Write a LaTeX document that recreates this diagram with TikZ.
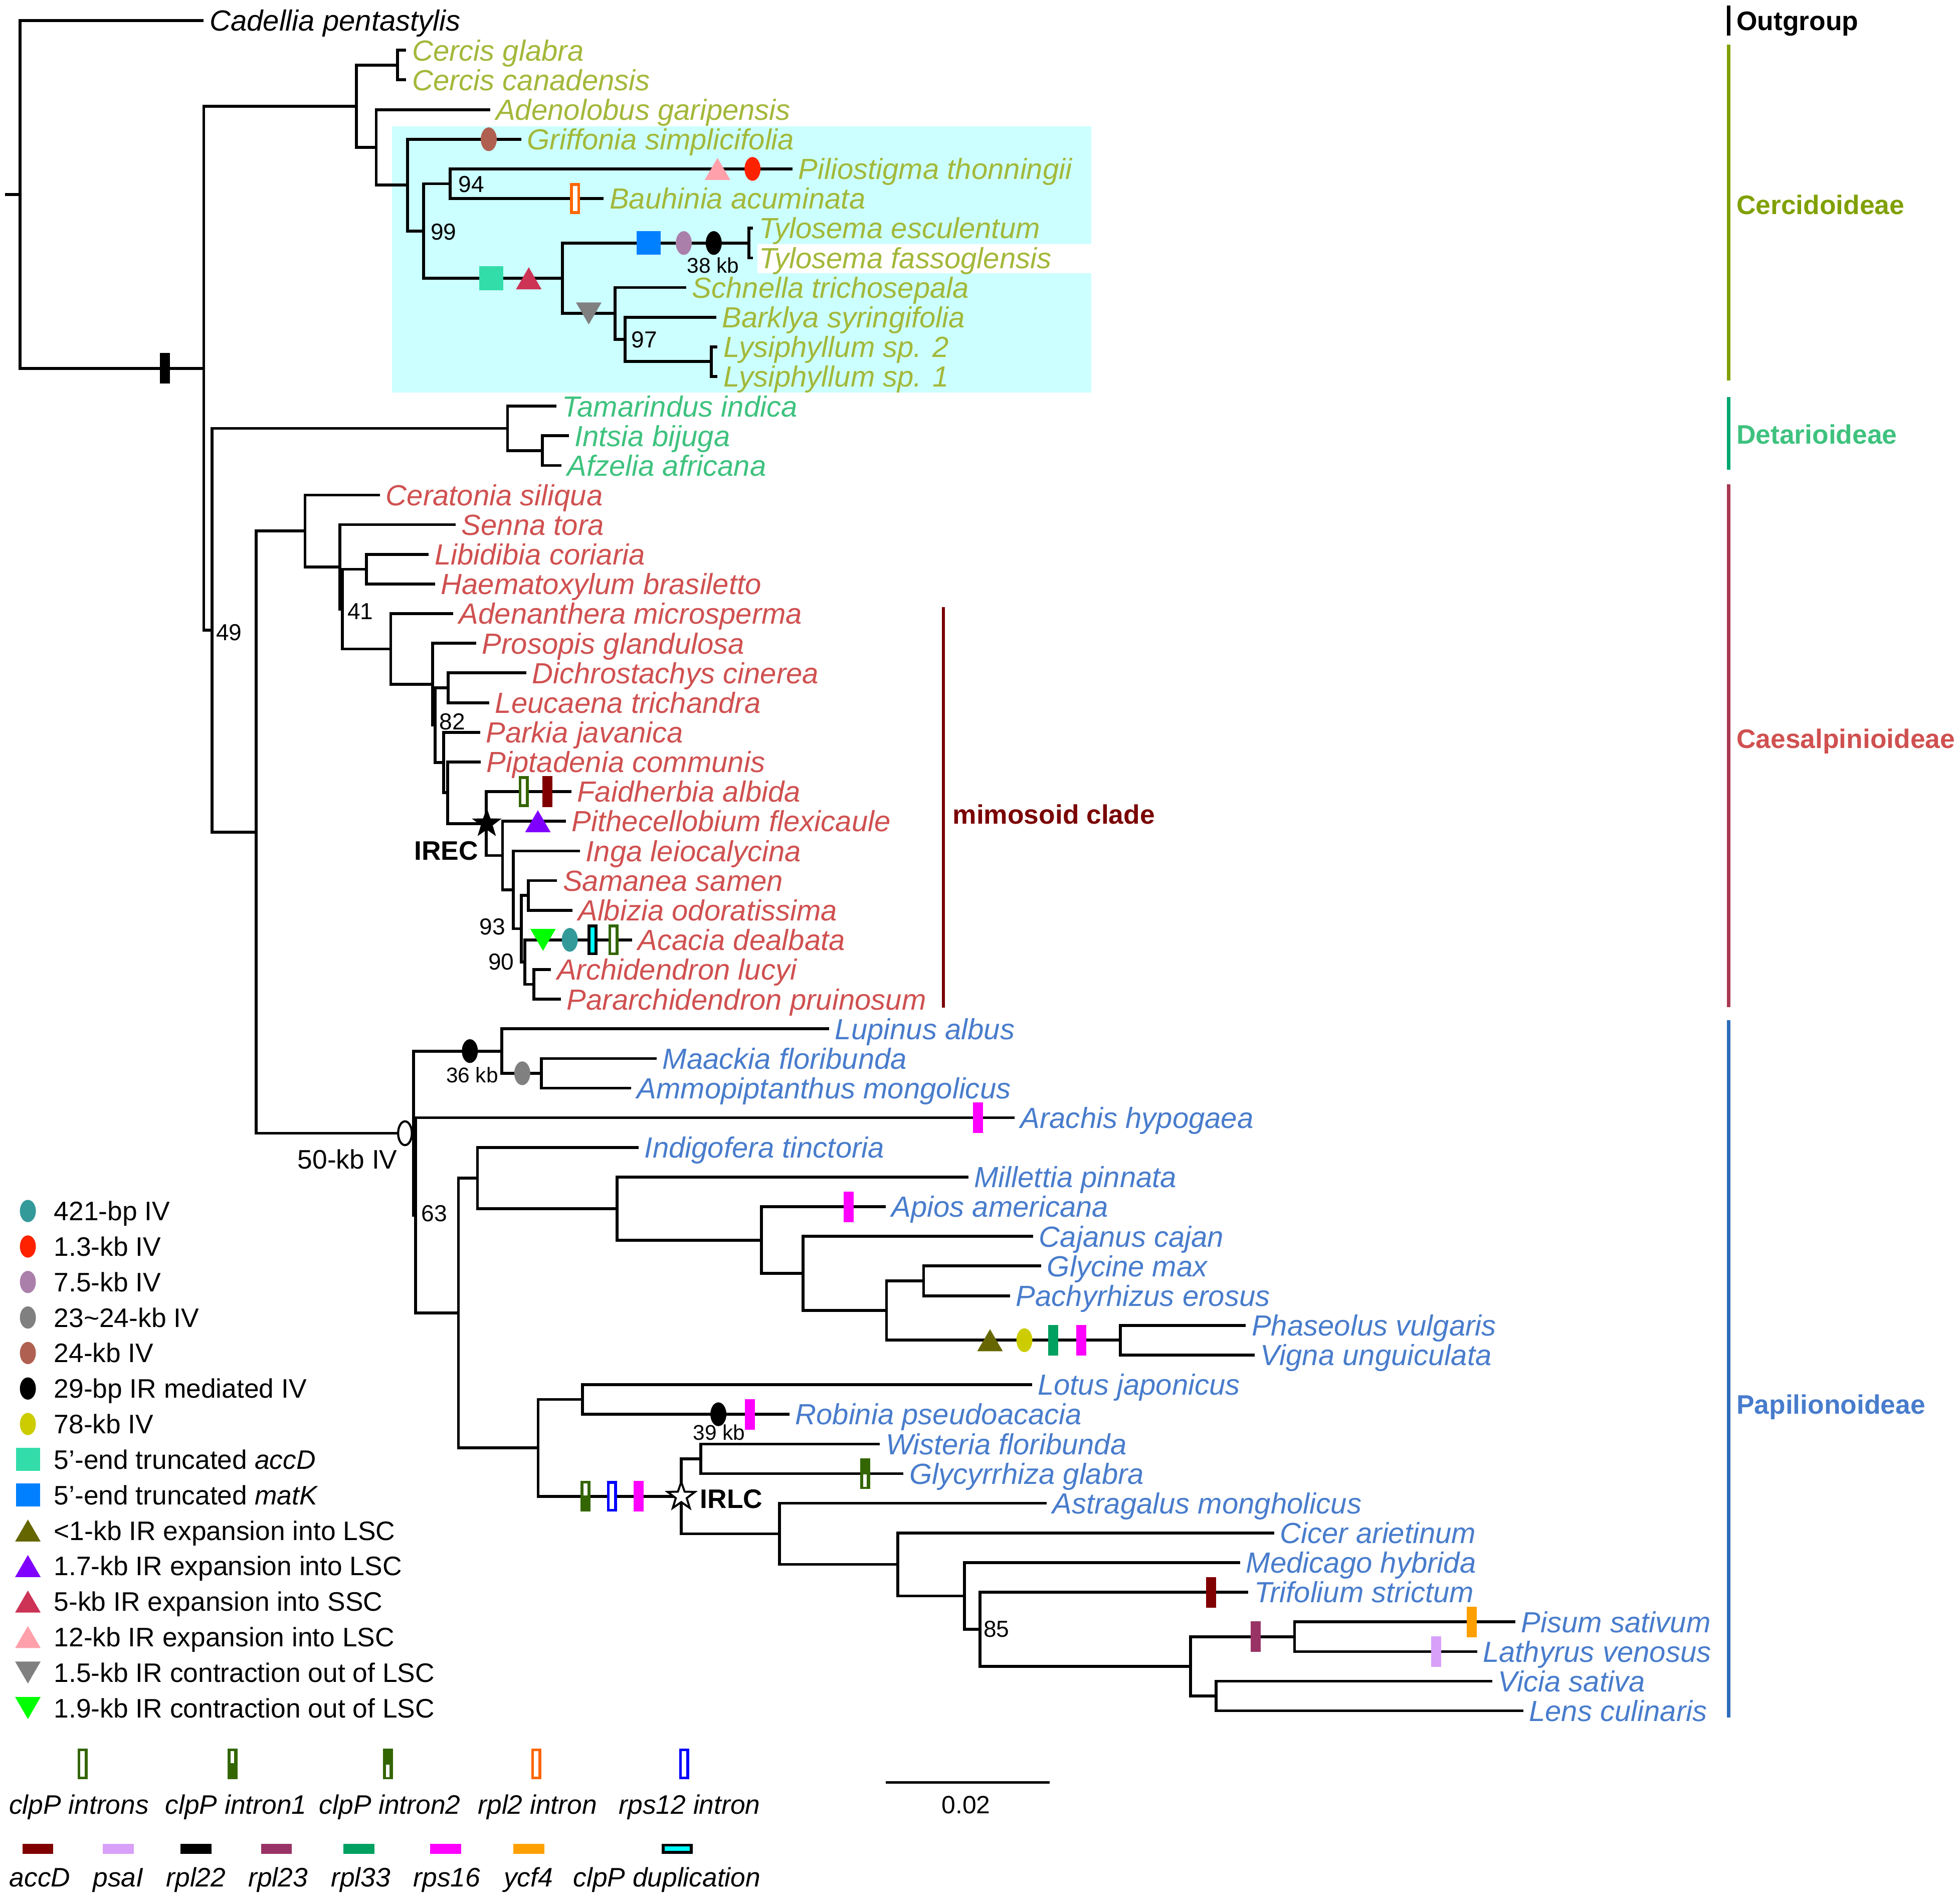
\documentclass[tikz,border=0pt]{standalone}
\usepackage{fontspec}
\setmainfont{Liberation Sans}
\usetikzlibrary{shapes.geometric}

\definecolor{cercT}{RGB}{163,184,58}
\definecolor{cercL}{RGB}{128,160,0}
\definecolor{detaT}{RGB}{62,194,126}
\definecolor{detaB}{RGB}{0,166,110}
\definecolor{caesT}{RGB}{208,80,80}
\definecolor{caesB}{RGB}{168,56,80}
\definecolor{papiT}{RGB}{72,124,204}
\definecolor{papiB}{RGB}{44,108,186}
\definecolor{mimo}{RGB}{122,0,0}
\definecolor{cyanbox}{RGB}{204,255,255}
\definecolor{ivA}{RGB}{51,153,153}
\definecolor{ivB}{RGB}{255,34,0}
\definecolor{ivC}{RGB}{170,128,170}
\definecolor{ivD}{RGB}{128,128,128}
\definecolor{ivE}{RGB}{176,96,80}
\definecolor{ivF}{RGB}{204,204,0}
\definecolor{trA}{RGB}{51,221,170}
\definecolor{trB}{RGB}{0,128,255}
\definecolor{irA}{RGB}{102,102,0}
\definecolor{irB}{RGB}{128,0,255}
\definecolor{irC}{RGB}{204,51,85}
\definecolor{irD}{RGB}{255,160,170}
\definecolor{irE}{RGB}{128,128,128}
\definecolor{irF}{RGB}{0,255,0}
\definecolor{clpg}{RGB}{51,102,0}
\definecolor{rplo}{RGB}{255,102,0}
\definecolor{rpsb}{RGB}{0,0,255}
\definecolor{accd}{RGB}{128,0,0}
\definecolor{psai}{RGB}{216,160,248}
\definecolor{rplm}{RGB}{153,51,102}
\definecolor{rplg}{RGB}{0,160,96}
\definecolor{rpsm}{RGB}{255,0,255}
\definecolor{ycf}{RGB}{255,160,0}
\definecolor{dupc}{RGB}{0,255,255}

\tikzset{
  branch/.style={line width=2.3pt},
  tip/.style={anchor=west, inner xsep=4.5pt, inner ysep=0pt, text height=16.7pt, text depth=0pt, font=\fontsize{23.3}{28}\selectfont\itshape},
  cerc/.style={text=cercT},
  deta/.style={text=detaT},
  caes/.style={text=caesT},
  papi/.style={text=papiT},
  boot/.style={anchor=west, inner sep=0pt, text height=13.2pt, text depth=0pt, font=\fontsize{18.5}{22}\selectfont},
  kb/.style={inner sep=0pt, text height=12.2pt, text depth=0pt, font=\fontsize{17}{20}\selectfont},
  lbl/.style={inner sep=0pt, text height=15.3pt, text depth=0pt, font=\fontsize{21.4}{25}\selectfont},
  lgtext/.style={lbl, anchor=west},
  gtext/.style={lbl, font=\fontsize{21.4}{25}\selectfont\itshape},
  heavy/.style={lbl, font=\fontsize{21.4}{25}\selectfont\bfseries},
  clade/.style={heavy, anchor=west},
  ivoval/.style={ellipse, inner sep=0pt, minimum width=12.8pt, minimum height=19pt},
  sqbox/.style={rectangle, inner sep=0pt, minimum width=19.3pt, minimum height=19pt},
  gene/.style={rectangle, inner sep=0pt, minimum width=8pt, minimum height=24.5pt},
  intron/.style={rectangle, inner sep=0pt, minimum width=5.8pt, minimum height=22.3pt, line width=2.2pt, fill=white},
  intronone/.style={gene, fill=clpg, path picture={\fill[white] ([xshift=-1.5pt,yshift=-2pt]path picture bounding box.north) rectangle ([xshift=1.5pt,yshift=-11.5pt]path picture bounding box.north);}},
  introntwo/.style={gene, fill=clpg, path picture={\fill[white] ([xshift=-1.5pt,yshift=1.5pt]path picture bounding box.south) rectangle ([xshift=1.5pt,yshift=11.5pt]path picture bounding box.south);}},
  dupl/.style={intron, draw=black, fill=dupc},
  hgene/.style={rectangle, inner sep=0pt, minimum width=24.7pt, minimum height=8pt},
  hdupl/.style={rectangle, inner sep=0pt, minimum width=22.5pt, minimum height=5.8pt, line width=2.2pt, draw=black, fill=dupc},
  ircstar/.style={star, star points=5, star point ratio=2.5, minimum size=25pt, inner sep=0pt}
}

\newcommand{\uptri}[3]{\fill[#1] (#2,#3) ++(-10.2,8.8) -- ++(20.4,0) -- ++(-10.2,-17.6) -- cycle;}
\newcommand{\dntri}[3]{\fill[#1] (#2,#3) ++(-10.2,-8.8) -- ++(20.4,0) -- ++(-10.2,17.6) -- cycle;}

\begin{document}
\begin{tikzpicture}[x=1pt, y=-1pt]
  \useasboundingbox (0,0) rectangle (1568,1518);
  \fill[cyanbox] (313.5,101) rectangle (873,314);
  \fill[white] (605.9,195.4) rectangle (874,218.5);

  \coordinate (s) at (4,155.6);
  \coordinate (r) at (16,155.6);
  \coordinate (nA) at (163,294.6);
  \coordinate (nB) at (285,85);
  \coordinate (nCer) at (318,52.05);
  \coordinate (nD) at (301,117.9);
  \coordinate (nE) at (326,148.1);
  \coordinate (nF) at (339,184.8);
  \coordinate (nG) at (360,146.95);
  \coordinate (nH) at (450,222.6);
  \coordinate (nTy) at (599,194.4);
  \coordinate (nI) at (492,250.75);
  \coordinate (nJ) at (500,271.5);
  \coordinate (nLy) at (569,289.25);
  \coordinate (nC) at (169.5,504.15);
  \coordinate (nDet) at (406,342.7);
  \coordinate (nL) at (434,360.45);
  \coordinate (nK) at (205,665.6);
  \coordinate (cA) at (244,424.7);
  \coordinate (cB) at (272,453.45);
  \coordinate (cC) at (274,487.2);
  \coordinate (cD) at (293,455.35);
  \coordinate (cE) at (312.6,519.1);
  \coordinate (cF) at (346,547.35);
  \coordinate (cG) at (348,580.1);
  \coordinate (cDL) at (358.4,550.2);
  \coordinate (cH) at (355,609.95);
  \coordinate (cI) at (358,634.15);
  \coordinate (cJ) at (389,658.8);
  \coordinate (cK) at (402,684.35);
  \coordinate (cL) at (410.5,711.8);
  \coordinate (cM) at (417,742.9);
  \coordinate (cN) at (422.6,716.25);
  \coordinate (cO) at (420,769.6);
  \coordinate (cP) at (427,787.4);
  \coordinate (pQ) at (330.8,906.5);
  \coordinate (pLu) at (401.4,840.8);
  \coordinate (pMa) at (433,858.55);
  \coordinate (pR) at (332.4,972.2);
  \coordinate (pS) at (366.7,1050.3);
  \coordinate (pT) at (382,942.35);
  \coordinate (pU) at (493.7,966.8);
  \coordinate (pV) at (609,991.98);
  \coordinate (pW) at (642.3,1018.65);
  \coordinate (pX) at (709.2,1048.3);
  \coordinate (pY) at (738.9,1024.6);
  \coordinate (pZ) at (896.4,1072.05);
  \coordinate (pG) at (430.5,1158.2);
  \coordinate (pAA) at (465.9,1119.45);
  \coordinate (pBB) at (545,1196.95);
  \coordinate (pCC) at (560.5,1166.95);
  \coordinate (pDD) at (623.5,1226.95);
  \coordinate (pFF) at (718.2,1251.4);
  \coordinate (pGG) at (771.6,1276.6);
  \coordinate (pHH) at (783.9,1303.3);
  \coordinate (pII) at (952.5,1332.95);
  \coordinate (pJJ) at (1035.6,1309.25);
  \coordinate (pKK) at (973,1356.65);

  \node[tip] (0) at (163,16.5) {Cadellia pentastylis};
  \node[tip, cerc] (1) at (325,40.2) {Cercis glabra};
  \node[tip, cerc] (2) at (325,63.9) {Cercis canadensis};
  \node[tip, cerc] (3) at (392,87.7) {Adenolobus garipensis};
  \node[tip, cerc] (4) at (417,111.4) {Griffonia simplicifolia};
  \node[tip, cerc] (5) at (634,135.1) {Piliostigma thonningii};
  \node[tip, cerc] (6) at (483,158.8) {Bauhinia acuminata};
  \node[tip, cerc] (7) at (602.5,182.5) {Tylosema esculentum};
  \node[tip, cerc] (8) at (602.5,206.3) {Tylosema fassoglensis};
  \node[tip, cerc] (9) at (549,230) {Schnella trichosepala};
  \node[tip, cerc] (10) at (573,253.7) {Barklya syringifolia};
  \node[tip, cerc] (11) at (574,277.4) {Lysiphyllum sp. 2};
  \node[tip, cerc] (12) at (574,301.1) {Lysiphyllum sp. 1};
  \node[tip, deta] (13) at (445,324.9) {Tamarindus indica};
  \node[tip, deta] (14) at (455,348.6) {Intsia bijuga};
  \node[tip, deta] (15) at (449,372.3) {Afzelia africana};
  \node[tip, caes] (16) at (304,396) {Ceratonia siliqua};
  \node[tip, caes] (17) at (364.5,419.7) {Senna tora};
  \node[tip, caes] (18) at (343,443.5) {Libidibia coriaria};
  \node[tip, caes] (19) at (348,467.2) {Haematoxylum brasiletto};
  \node[tip, caes] (20) at (362.5,490.9) {Adenanthera microsperma};
  \node[tip, caes] (21) at (381,514.6) {Prosopis glandulosa};
  \node[tip, caes] (22) at (421,538.3) {Dichrostachys cinerea};
  \node[tip, caes] (23) at (391.5,562.1) {Leucaena trichandra};
  \node[tip, caes] (24) at (384,585.8) {Parkia javanica};
  \node[tip, caes] (25) at (384.6,609.5) {Piptadenia communis};
  \node[tip, caes] (26) at (457,633.2) {Faidherbia albida};
  \node[tip, caes] (27) at (452.7,656.9) {Pithecellobium flexicaule};
  \node[tip, caes] (28) at (464,680.7) {Inga leiocalycina};
  \node[tip, caes] (29) at (445.7,704.4) {Samanea samen};
  \node[tip, caes] (30) at (457.8,728.1) {Albizia odoratissima};
  \node[tip, caes] (31) at (505.6,751.8) {Acacia dealbata};
  \node[tip, caes] (32) at (440.9,775.5) {Archidendron lucyi};
  \node[tip, caes] (33) at (448.7,799.3) {Pararchidendron pruinosum};
  \node[tip, papi] (34) at (663.3,823) {Lupinus albus};
  \node[tip, papi] (35) at (525.3,846.7) {Maackia floribunda};
  \node[tip, papi] (36) at (504.8,870.4) {Ammopiptanthus mongolicus};
  \node[tip, papi] (37) at (811.6,894.1) {Arachis hypogaea};
  \node[tip, papi] (38) at (511,917.9) {Indigofera tinctoria};
  \node[tip, papi] (39) at (774.7,941.6) {Millettia pinnata};
  \node[tip, papi] (40) at (708.5,965.3) {Apios americana};
  \node[tip, papi] (41) at (826.6,989) {Cajanus cajan};
  \node[tip, papi] (42) at (833,1012.7) {Glycine max};
  \node[tip, papi] (43) at (808,1036.5) {Pachyrhizus erosus};
  \node[tip, papi] (44) at (996.7,1060.2) {Phaseolus vulgaris};
  \node[tip, papi] (45) at (1003.8,1083.9) {Vigna unguiculata};
  \node[tip, papi] (46) at (825.5,1107.6) {Lotus japonicus};
  \node[tip, papi] (47) at (631.5,1131.3) {Robinia pseudoacacia};
  \node[tip, papi] (48) at (703.9,1155.1) {Wisteria floribunda};
  \node[tip, papi] (49) at (722.8,1178.8) {Glycyrrhiza glabra};
  \node[tip, papi] (50) at (837.2,1202.5) {Astragalus mongholicus};
  \node[tip, papi] (51) at (1019.4,1226.2) {Cicer arietinum};
  \node[tip, papi] (52) at (992.2,1249.9) {Medicago hybrida};
  \node[tip, papi] (53) at (998.7,1273.7) {Trifolium strictum};
  \node[tip, papi] (54) at (1212.3,1297.4) {Pisum sativum};
  \node[tip, papi] (55) at (1181.6,1321.1) {Lathyrus venosus};
  \node[tip, papi] (56) at (1193.9,1344.8) {Vicia sativa};
  \node[tip, papi] (57) at (1218.5,1368.5) {Lens culinaris};

  \draw[branch] (s) -- (r);
  \draw[branch] (r) |- (0.west);
  \draw[branch] (r) |- (nA);
  \draw[branch] (nA) |- (nB);
  \draw[branch] (nA) |- (nC);
  \draw[branch] (nB) |- (nCer);
  \draw[branch] (nB) |- (nD);
  \draw[branch] (nCer) |- (1.west);
  \draw[branch] (nCer) |- (2.west);
  \draw[branch] (nD) |- (3.west);
  \draw[branch] (nD) |- (nE);
  \draw[branch] (nE) |- (4.west);
  \draw[branch] (nE) |- (nF);
  \draw[branch] (nF) |- (nG);
  \draw[branch] (nF) |- (nH);
  \draw[branch] (nG) |- (5.west);
  \draw[branch] (nG) |- (6.west);
  \draw[branch] (nH) |- (nTy);
  \draw[branch] (nH) |- (nI);
  \draw[branch] (nTy) |- (7.west);
  \draw[branch] (nTy) |- (8.west);
  \draw[branch] (nI) |- (9.west);
  \draw[branch] (nI) |- (nJ);
  \draw[branch] (nJ) |- (10.west);
  \draw[branch] (nJ) |- (nLy);
  \draw[branch] (nLy) |- (11.west);
  \draw[branch] (nLy) |- (12.west);
  \draw[branch] (nC) |- (nDet);
  \draw[branch] (nC) |- (nK);
  \draw[branch] (nDet) |- (13.west);
  \draw[branch] (nDet) |- (nL);
  \draw[branch] (nL) |- (14.west);
  \draw[branch] (nL) |- (15.west);
  \draw[branch] (nK) |- (cA);
  \draw[branch] (nK) |- (pQ);
  \draw[branch] (cA) |- (16.west);
  \draw[branch] (cA) |- (cB);
  \draw[branch] (cB) |- (17.west);
  \draw[branch] (cB) |- (cC);
  \draw[branch] (cC) |- (cD);
  \draw[branch] (cC) |- (cE);
  \draw[branch] (cD) |- (18.west);
  \draw[branch] (cD) |- (19.west);
  \draw[branch] (cE) |- (20.west);
  \draw[branch] (cE) |- (cF);
  \draw[branch] (cF) |- (21.west);
  \draw[branch] (cF) |- (cG);
  \draw[branch] (cG) |- (cDL);
  \draw[branch] (cG) |- (cH);
  \draw[branch] (cDL) |- (22.west);
  \draw[branch] (cDL) |- (23.west);
  \draw[branch] (cH) |- (24.west);
  \draw[branch] (cH) |- (cI);
  \draw[branch] (cI) |- (25.west);
  \draw[branch] (cI) |- (cJ);
  \draw[branch] (cJ) |- (26.west);
  \draw[branch] (cJ) |- (cK);
  \draw[branch] (cK) |- (27.west);
  \draw[branch] (cK) |- (cL);
  \draw[branch] (cL) |- (28.west);
  \draw[branch] (cL) |- (cM);
  \draw[branch] (cM) |- (cN);
  \draw[branch] (cM) |- (cO);
  \draw[branch] (cN) |- (29.west);
  \draw[branch] (cN) |- (30.west);
  \draw[branch] (cO) |- (31.west);
  \draw[branch] (cO) |- (cP);
  \draw[branch] (cP) |- (32.west);
  \draw[branch] (cP) |- (33.west);
  \draw[branch] (pQ) |- (pLu);
  \draw[branch] (pQ) |- (pR);
  \draw[branch] (pLu) |- (34.west);
  \draw[branch] (pLu) |- (pMa);
  \draw[branch] (pMa) |- (35.west);
  \draw[branch] (pMa) |- (36.west);
  \draw[branch] (pR) |- (37.west);
  \draw[branch] (pR) |- (pS);
  \draw[branch] (pS) |- (pT);
  \draw[branch] (pS) |- (pG);
  \draw[branch] (pT) |- (38.west);
  \draw[branch] (pT) |- (pU);
  \draw[branch] (pU) |- (39.west);
  \draw[branch] (pU) |- (pV);
  \draw[branch] (pV) |- (40.west);
  \draw[branch] (pV) |- (pW);
  \draw[branch] (pW) |- (41.west);
  \draw[branch] (pW) |- (pX);
  \draw[branch] (pX) |- (pY);
  \draw[branch] (pX) |- (pZ);
  \draw[branch] (pY) |- (42.west);
  \draw[branch] (pY) |- (43.west);
  \draw[branch] (pZ) |- (44.west);
  \draw[branch] (pZ) |- (45.west);
  \draw[branch] (pG) |- (pAA);
  \draw[branch] (pG) |- (pBB);
  \draw[branch] (pAA) |- (46.west);
  \draw[branch] (pAA) |- (47.west);
  \draw[branch] (pBB) |- (pCC);
  \draw[branch] (pBB) |- (pDD);
  \draw[branch] (pCC) |- (48.west);
  \draw[branch] (pCC) |- (49.west);
  \draw[branch] (pDD) |- (50.west);
  \draw[branch] (pDD) |- (pFF);
  \draw[branch] (pFF) |- (51.west);
  \draw[branch] (pFF) |- (pGG);
  \draw[branch] (pGG) |- (52.west);
  \draw[branch] (pGG) |- (pHH);
  \draw[branch] (pHH) |- (53.west);
  \draw[branch] (pHH) |- (pII);
  \draw[branch] (pII) |- (pJJ);
  \draw[branch] (pII) |- (pKK);
  \draw[branch] (pJJ) |- (54.west);
  \draw[branch] (pJJ) |- (55.west);
  \draw[branch] (pKK) |- (56.west);
  \draw[branch] (pKK) |- (57.west);

  \node[boot] (b94) at (366.7,147.3) {94};
  \node[boot] (b99) at (344.4,185.2) {99};
  \node[boot] (b97) at (505,271.5) {97};
  \node[boot] (b49) at (172.7,505.8) {49};
  \node[boot] (b41) at (277.8,488.7) {41};
  \node[boot] (b82) at (351.4,577) {82};
  \node[boot, anchor=east] (b93) at (404.4,741) {93};
  \node[boot, anchor=east] (b90) at (411.4,769.3) {90};
  \node[boot] (b63) at (337,970.6) {63};
  \node[boot] (b85) at (786.7,1302.8) {85};

  \node[gene, fill=black] (m0) at (132,294.6) {};
  \node[ivoval, fill=ivE] (m1) at (391,111.4) {};
  \uptri{irD}{574}{135.1}
  \node[ivoval, fill=ivB] (m2) at (602,135.1) {};
  \node[intron, draw=rplo] (m3) at (460,158.8) {};
  \node[sqbox, fill=trB] (m4) at (519,194.4) {};
  \node[ivoval, fill=ivC] (m5) at (547,194.4) {};
  \node[ivoval, fill=black] (m6) at (571,194.4) {};
  \node[kb] (k38) at (570.5,212.3) {38 kb};
  \node[sqbox, fill=trA] (m7) at (393,222.6) {};
  \uptri{irC}{423}{222.6}
  \dntri{irE}{471}{250.75}

  \node[intron, draw=clpg] (m8) at (419,633.2) {};
  \node[gene, fill=accd] (m9) at (438,633.2) {};
  \node[ircstar, fill=black] (m10) at (389.4,658.7) {};
  \node[heavy] (irec) at (357,680.2) {IREC};
  \uptri{irB}{430.3}{656.9}
  \dntri{irF}{434.4}{751.8}
  \node[ivoval, fill=ivA] (m11) at (455.8,751.8) {};
  \node[dupl] (m12) at (474,751.8) {};
  \node[intron, draw=clpg] (m13) at (490.7,751.8) {};

  \node[ivoval, draw=black, fill=white, line width=1.7pt, minimum width=11pt, minimum height=19pt] (m14) at (324,906.5) {};
  \node[lbl] (k50) at (278,927.2) {50-kb IV};
  \node[ivoval, fill=black] (m15) at (375.9,840.8) {};
  \node[kb] (k36) at (377.7,860) {36 kb};
  \node[ivoval, fill=ivD] (m16) at (417.8,858.55) {};
  \node[gene, fill=rpsm] (m17) at (782.5,894.1) {};
  \node[gene, fill=rpsm] (m18) at (679,965.3) {};
  \uptri{irA}{792}{1072.05}
  \node[ivoval, fill=ivF] (m19) at (819.5,1072.05) {};
  \node[gene, fill=rplg] (m20) at (842.7,1072.05) {};
  \node[gene, fill=rpsm] (m21) at (864.9,1072.05) {};
  \node[ivoval, fill=black] (m22) at (574.7,1131.3) {};
  \node[kb] (k39) at (575.2,1146) {39 kb};
  \node[gene, fill=rpsm] (m23) at (599.8,1131.3) {};
  \node[intronone] (m24) at (468.3,1196.95) {};
  \node[intron, draw=rpsb] (m25) at (489.6,1196.95) {};
  \node[gene, fill=rpsm] (m26) at (510.8,1196.95) {};
  \node[ircstar, draw=black, fill=white, line width=1.6pt, minimum size=23pt] (m27) at (545,1196.95) {};
  \node[heavy, anchor=west] (irlc) at (560,1198.9) {IRLC};
  \node[introntwo] (m28) at (692,1178.8) {};
  \node[gene, fill=accd] (m29) at (968.7,1273.7) {};
  \node[gene, fill=rplm] (m30) at (1004.4,1309.25) {};
  \node[gene, fill=ycf] (m31) at (1177.5,1297.4) {};
  \node[gene, fill=psai] (m32) at (1148.9,1321.1) {};

  \node[clade] (og) at (1389,16.5) {Outgroup};
  \draw[line width=3pt] (1383,4.5) -- (1383,28.6);
  \node[clade, text=cercL] (cl1) at (1389,163.8) {Cercidoideae};
  \draw[line width=3pt, cercL] (1383,35.8) -- (1383,304.3);
  \node[clade, text=detaT] (cl2) at (1389,347.3) {Detarioideae};
  \draw[line width=3pt, detaB] (1383,317.7) -- (1383,375.9);
  \node[clade, text=caesT] (cl3) at (1389,590.7) {Caesalpinioideae};
  \draw[line width=3pt, caesB] (1383,387.5) -- (1383,805.5);
  \node[clade, text=papiT] (cl4) at (1389,1123.3) {Papilionoideae};
  \draw[line width=3pt, papiB] (1383,816) -- (1383,1373.8);
  \node[clade, text=mimo] (cl5) at (762,651.5) {mimosoid clade};
  \draw[line width=2.5pt, mimo] (754.6,485.6) -- (754.6,806);

  \node[ivoval, fill=ivA, minimum height=17.8pt] (l0) at (22.3,968.7) {};
  \node[lgtext] (t0) at (43,968.7) {421-bp IV};
  \node[ivoval, fill=ivB, minimum height=17.8pt] (l1) at (22.3,997.1) {};
  \node[lgtext] (t1) at (43,997.1) {1.3-kb IV};
  \node[ivoval, fill=ivC, minimum height=17.8pt] (l2) at (22.3,1025.5) {};
  \node[lgtext] (t2) at (43,1025.5) {7.5-kb IV};
  \node[ivoval, fill=ivD, minimum height=17.8pt] (l3) at (22.3,1053.9) {};
  \node[lgtext] (t3) at (43,1053.9) {23\textasciitilde24-kb IV};
  \node[ivoval, fill=ivE, minimum height=17.8pt] (l4) at (22.3,1082.3) {};
  \node[lgtext] (t4) at (43,1082.3) {24-kb IV};
  \node[ivoval, fill=black, minimum height=17.8pt] (l5) at (22.3,1110.7) {};
  \node[lgtext] (t5) at (43,1110.7) {29-bp IR mediated IV};
  \node[ivoval, fill=ivF, minimum height=17.8pt] (l6) at (22.3,1139.1) {};
  \node[lgtext] (t6) at (43,1139.1) {78-kb IV};
  \node[sqbox, fill=trA, minimum height=18.4pt] (l7) at (22.3,1167.5) {};
  \node[lgtext] (t7) at (43,1167.5) {5’-end truncated \textit{accD}};
  \node[sqbox, fill=trB, minimum height=18.4pt] (l8) at (22.3,1195.9) {};
  \node[lgtext] (t8) at (43,1195.9) {5’-end truncated \textit{matK}};
  \uptri{irA}{22.3}{1224.3}
  \node[lgtext] (t9) at (43,1224.3) {<1-kb IR expansion into LSC};
  \uptri{irB}{22.3}{1252.7}
  \node[lgtext] (t10) at (43,1252.7) {1.7-kb IR expansion into LSC};
  \uptri{irC}{22.3}{1281.1}
  \node[lgtext] (t11) at (43,1281.1) {5-kb IR expansion into SSC};
  \uptri{irD}{22.3}{1309.5}
  \node[lgtext] (t12) at (43,1309.5) {12-kb IR expansion into LSC};
  \dntri{irE}{22.3}{1337.9}
  \node[lgtext] (t13) at (43,1337.9) {1.5-kb IR contraction out of LSC};
  \dntri{irF}{22.3}{1366.3}
  \node[lgtext] (t14) at (43,1366.3) {1.9-kb IR contraction out of LSC};

  \node[intron, draw=clpg] (g1) at (66,1411) {};
  \node[gtext] (h1) at (63.2,1443.5) {clpP introns};
  \node[intronone] (g2) at (185.9,1411) {};
  \node[gtext] (h2) at (188.7,1443.5) {clpP intron1};
  \node[introntwo] (g3) at (310.2,1411) {};
  \node[gtext] (h3) at (311.9,1443.5) {clpP intron2};
  \node[intron, draw=rplo] (g4) at (429,1411) {};
  \node[gtext] (h4) at (430,1443.5) {rpl2 intron};
  \node[intron, draw=rpsb] (g5) at (547.3,1411) {};
  \node[gtext] (h5) at (551.7,1443.5) {rps12 intron};

  \coordinate (sb1) at (708.4,1425.8);
  \coordinate (sb2) at (839.9,1425.8);
  \draw[line width=2.3pt] (sb1) -- (sb2);
  \node[lbl, font=\fontsize{20}{24}\selectfont, text height=14.3pt] (sbl) at (772.8,1443.5) {0.02};

  \node[hgene, fill=accd] (e1) at (30.3,1478.9) {};
  \node[gtext] (f1) at (31.9,1501.6) {accD};
  \node[hgene, fill=psai] (e2) at (94.6,1478.9) {};
  \node[gtext] (f2) at (94.6,1501.6) {psaI};
  \node[hgene, fill=black] (e3) at (156.8,1478.9) {};
  \node[gtext] (f3) at (156.8,1501.6) {rpl22};
  \node[hgene, fill=rplm] (e4) at (221.1,1478.9) {};
  \node[gtext] (f4) at (222.5,1501.6) {rpl23};
  \node[hgene, fill=rplg] (e5) at (287.1,1478.9) {};
  \node[gtext] (f5) at (288.6,1501.6) {rpl33};
  \node[hgene, fill=rpsm] (e6) at (356.4,1478.9) {};
  \node[gtext] (f6) at (357.5,1501.6) {rps16};
  \node[hgene, fill=ycf] (e7) at (423,1478.9) {};
  \node[gtext] (f7) at (422.7,1501.6) {ycf4};
  \node[hdupl] (e8) at (541.8,1478.9) {};
  \node[gtext] (f8) at (533.5,1501.6) {clpP duplication};
\end{tikzpicture}
\end{document}
